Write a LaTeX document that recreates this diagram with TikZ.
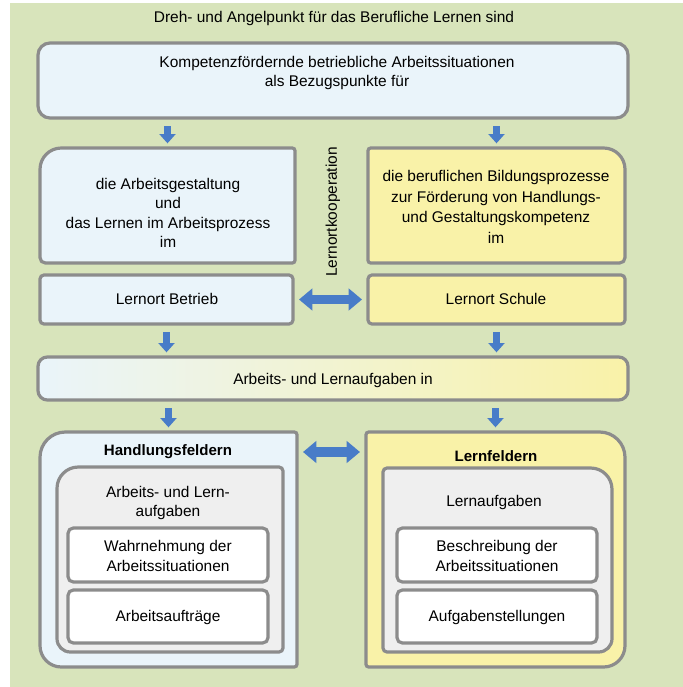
\documentclass[tikz,border=0pt]{standalone}
\usepackage{fontspec}
\setmainfont{Liberation Sans}
\usetikzlibrary{fit,arrows.meta}

\definecolor{bggreen}{RGB}{216,228,187}
\definecolor{paleblue}{RGB}{234,244,250}
\definecolor{paleyellow}{RGB}{249,242,168}
\definecolor{innergray}{RGB}{239,239,239}
\definecolor{rimgray}{RGB}{140,140,140}
\definecolor{flowblue}{RGB}{72,124,200}

% outline of a box node with an individual radius per corner (nw, ne, se, sw)
\newcommand\boxoutline[6]{%
  \draw[rim,#2] (#1.west) [rounded corners=#3] -- (#1.north west)
    [rounded corners=#4] -- (#1.north east)
    [rounded corners=#5] -- (#1.south east)
    [rounded corners=#6] -- (#1.south west) [sharp corners] -- cycle;}

\tikzset{
  frame/.style={inner sep=0pt, outer sep=0pt},
  rim/.style={draw=rimgray, line width=2.4pt},
  label/.style={font=\fontsize{11.6pt}{14.5pt}\selectfont, align=center, inner sep=0pt},
  heading/.style={label, font=\fontsize{11.3pt}{14.5pt}\selectfont\bfseries},
  downarrow/.style={draw=flowblue, line width=5.4pt,
    -{Triangle[width=12pt,length=7pt]}, shorten <=6pt, shorten >=3.5pt},
  dblarrow/.style={draw=flowblue, line width=7pt,
    {Triangle[width=16pt,length=10pt]}-{Triangle[width=16pt,length=10pt]},
    shorten <=4.5pt, shorten >=4.5pt},
}

\begin{document}
\begin{tikzpicture}[x=0.75pt, y=-0.75pt]
  \useasboundingbox (0,0) rectangle (683,687);
  \fill[white] (0,0) rectangle (683,687);
  \fill[bggreen] (10,3) rectangle (683,687);

  % box frames
  \node[frame, fit={(38,43)(628,118)}] (top) {};
  \node[frame, fit={(40,148)(295,263)}] (lbox) {};
  \node[frame, fit={(368,148)(625,263)}] (rbox) {};
  \node[frame, fit={(40,275)(293,324)}] (lb) {};
  \node[frame, fit={(368,275)(625,324)}] (ls) {};
  \node[frame, fit={(38,357)(628,400)}] (mid) {};
  \node[frame, fit={(40,432)(297,667)}] (hfbox) {};
  \node[frame, fit={(57,467)(283,652)}] (hfin) {};
  \node[frame, fit={(68,528)(268,582)}] (w1) {};
  \node[frame, fit={(68,590)(268,643)}] (w2) {};
  \node[frame, fit={(366,432)(625,667)}] (lfbox) {};
  \node[frame, fit={(383,468)(612,652)}] (lfin) {};
  \node[frame, fit={(397,528)(597,582)}] (w3) {};
  \node[frame, fit={(397,590)(597,643)}] (w4) {};

  \boxoutline{top}{fill=paleblue}{9pt}{9pt}{9pt}{9pt}
  \boxoutline{lbox}{fill=paleblue}{16pt}{2pt}{2pt}{4pt}
  \boxoutline{rbox}{fill=paleyellow}{2pt}{16pt}{4pt}{2pt}
  \boxoutline{lb}{fill=paleblue}{3pt}{3pt}{3pt}{3pt}
  \boxoutline{ls}{fill=paleyellow}{3pt}{3pt}{3pt}{3pt}
  \boxoutline{mid}{left color=paleblue, right color=paleyellow}{7pt}{7pt}{7pt}{7pt}
  \boxoutline{hfbox}{fill=paleblue}{19pt}{2pt}{2pt}{16pt}
  \boxoutline{hfin}{fill=innergray}{16pt}{3pt}{3pt}{10pt}
  \boxoutline{w1}{fill=white}{4pt}{4pt}{4pt}{4pt}
  \boxoutline{w2}{fill=white}{4pt}{4pt}{4pt}{4pt}
  \boxoutline{lfbox}{fill=paleyellow}{2pt}{19pt}{16pt}{2pt}
  \boxoutline{lfin}{fill=innergray}{3pt}{16pt}{10pt}{3pt}
  \boxoutline{w3}{fill=white}{4pt}{4pt}{4pt}{4pt}
  \boxoutline{w4}{fill=white}{4pt}{4pt}{4pt}{4pt}

  % texts
  \node[label] (title) at (334,18) {Dreh- und Angelpunkt für das Berufliche Lernen sind};
  \node[label] (toptxt) at (337,73) {Kompetenzfördernde betriebliche Arbeitssituationen\\als Bezugspunkte für};
  \node[label] (ltxt) at (168,213) {die Arbeitsgestaltung\\und\\das Lernen im Arbeitsprozess\\im};
  \node[label, font=\fontsize{11.6pt}{15.5pt}\selectfont] (rtxt) at (496,207) {die beruflichen Bildungsprozesse\\zur Förderung von Handlungs-\\und Gestaltungskompetenz\\im};
  \node[label, rotate=90] (koop) at (333,212) {Lernortkooperation};
  \node[label] (betrieb) at (167,299) {Lernort Betrieb};
  \node[label] (schule) at (496,299) {Lernort Schule};
  \node[label] (midtxt) at (333,380) {Arbeits- und Lernaufgaben in};
  \node[heading] (hf) at (168,452) {Handlungsfeldern};
  \node[heading] (lf) at (496,456) {Lernfeldern};
  \node[label] (alauf) at (168,503) {Arbeits- und Lern-\\aufgaben};
  \node[label] (lauf) at (494,502) {Lernaufgaben};
  \node[label] (wahr) at (168,556) {Wahrnehmung der\\Arbeitssituationen};
  \node[label] (auftr) at (168,617) {Arbeitsaufträge};
  \node[label] (beschr) at (497,556) {Beschreibung der\\Arbeitssituationen};
  \node[label] (aufgst) at (497,617) {Aufgabenstellungen};

  % flow arrows
  \draw[downarrow] (top.south -| lbox.north) -- (lbox.north);
  \draw[downarrow] (top.south -| rbox.north) -- (rbox.north);
  \draw[downarrow] (lb.south) -- (lb.south |- mid.north);
  \draw[downarrow] (ls.south) -- (ls.south |- mid.north);
  \draw[downarrow] (mid.south -| hfbox.north) -- (hfbox.north);
  \draw[downarrow] (mid.south -| lfbox.north) -- (lfbox.north);
  \draw[dblarrow] (lb.east) -- (ls.west);
  \draw[dblarrow] (hfbox.east |- hf.center) -- (lfbox.west |- hf.center);
\end{tikzpicture}
\end{document}
